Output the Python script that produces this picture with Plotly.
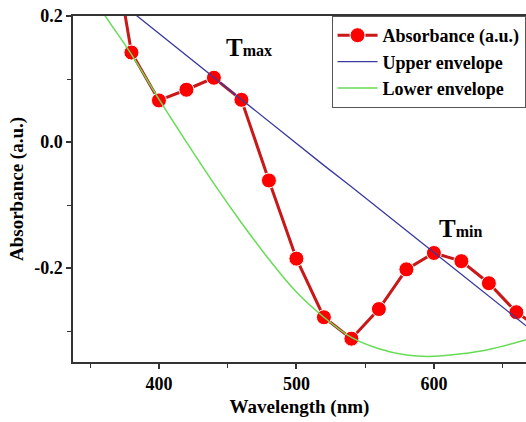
import plotly.graph_objects as go

wavelength = [360, 380, 400, 420, 440, 460, 480, 500, 520, 540, 560, 580, 600, 620, 640, 660, 680]
absorbance = [0.40, 0.142, 0.066, 0.083, 0.102, 0.067, -0.061, -0.185, -0.278, -0.312, -0.265, -0.202, -0.176, -0.189, -0.224, -0.270, -0.300]

env_x = [340, 360, 380, 400, 420, 440, 460, 480, 500, 520, 540, 560, 580, 600, 620, 640, 660, 680]
upper_env = [0.277, 0.242, 0.207, 0.172, 0.137, 0.102, 0.068, 0.033, -0.002, -0.037, -0.071, -0.106, -0.141, -0.176, -0.210, -0.245, -0.280, -0.314]
lower_env = [0.27, 0.203, 0.139, 0.068, 0.0, -0.066, -0.128, -0.186, -0.238, -0.278, -0.310, -0.328, -0.338, -0.340, -0.336, -0.329, -0.318, -0.305]

FONT = "Liberation Serif"

fig = go.Figure()
fig.add_trace(go.Scatter(
    x=wavelength, y=absorbance, name="Absorbance (a.u.)",
    mode="lines+markers",
    line=dict(color="#c81818", width=3),
    marker=dict(color="#ff0000", size=15, line=dict(color="white", width=1)),
))
fig.add_trace(go.Scatter(
    x=env_x, y=upper_env, name="Upper envelope", mode="lines",
    line=dict(color="#3a3aa0", width=1.3),
))
fig.add_trace(go.Scatter(
    x=env_x, y=lower_env, name="Lower envelope", mode="lines",
    line=dict(color="#66dd55", width=1.5), line_shape="spline",
))

fig.add_annotation(x=465.7, y=0.150, xref="x", yref="y", showarrow=False,
                   text="<b>T<span style='font-size:16px'>max</span></b>",
                   font=dict(family=FONT, size=25, color="black"))
fig.add_annotation(x=619, y=-0.137, xref="x", yref="y", showarrow=False,
                   text="<b>T<span style='font-size:16px'>min</span></b>",
                   font=dict(family=FONT, size=25, color="black"))

axis_common = dict(
    showgrid=False, zeroline=False, showline=True, linecolor="#333333", linewidth=1.5,
    ticks="outside", ticklen=5, tickwidth=1.5, tickcolor="#333333",
    tickfont=dict(family=FONT, size=18, color="black", weight="bold"),
    title_font=dict(family=FONT, size=19, color="black", weight="bold"),
    automargin=False,
)

fig.update_xaxes(
    range=[337.5, 667], tickvals=[400, 500, 600], mirror=True,
    minor=dict(tickvals=[350, 450, 550, 650], ticks="outside", ticklen=4, tickcolor="#333333", tickwidth=1.2),
    title_text="Wavelength (nm)", title_standoff=6, **axis_common,
)
fig.update_yaxes(
    range=[-0.349, 0.2], tickvals=[0.2, 0.0, -0.2], ticktext=["0.2", "0.0", "-0.2"],
    minor=dict(tickvals=[0.1, -0.1, -0.3], ticks="outside", ticklen=4, tickcolor="#333333", tickwidth=1.2),
    title_text="Absorbance (a.u.)", title_standoff=6, **axis_common,
)

fig.update_layout(
    width=526, height=422,
    margin=dict(l=73, r=0, t=16, b=60),
    plot_bgcolor="white", paper_bgcolor="white",
    showlegend=True,
    legend=dict(
        x=0.999, y=1.0, xanchor="right", yanchor="top",
        bgcolor="white", bordercolor="#555555", borderwidth=1,
        font=dict(family=FONT, size=18, color="black", weight="bold"),
        tracegroupgap=0, itemwidth=40,
    ),
)

fig.write_html("out.html", config={"displayModeBar": False},
               post_script="document.body.style.margin='0';")
